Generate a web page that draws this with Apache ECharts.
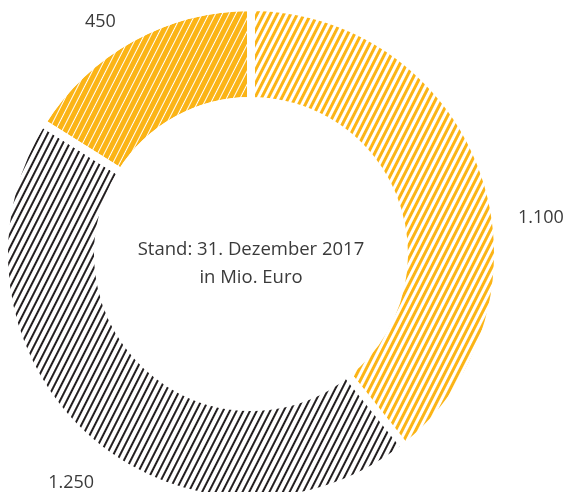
<!DOCTYPE html>
<html>
<head>
<meta charset="utf-8">
<title>Donut</title>
<script src="https://cdn.jsdelivr.net/npm/echarts@6/dist/echarts.min.js"></script>
<style>
    html, body { margin: 0; padding: 0; background: #fff; }
    #main { width: 566px; height: 492px; }
</style>
</head>
<body>
<div id="main"></div>
<script>
    // Werte (in Mio. Euro), im Uhrzeigersinn ab 12 Uhr
    var labels = ['1.100', '1.250', '450'];
    var values = [1100, 1250, 450];
    var centerText = ['Stand: 31. Dezember 2017', 'in Mio. Euro'];

    var yellow = '#fbb416';
    var black = '#231f20';
    // Verschiebung der Beschriftungen gegenüber der Standardlage
    var labelNudge = [[10, 52], [26, 30], [-1, 2]];

    // Schraffur: senkrechte Streifen, leicht gedreht
    function stripes(color, on, off){
        return {
            symbol: 'rect',
            symbolSize: 1,
            color: color,
            dashArrayX: [on, off],
            dashArrayY: [1, 0],
            rotation: 0.47
        };
    }
    var styles = [
        { color: '#fff', decal: stripes(yellow, 3, 3) },
        { color: '#fff', decal: stripes(black, 2, 4) },
        { color: yellow, decal: stripes('#fff', 1, 5) }
    ];

    var seriesData = [];
    for (var i = 0; i < values.length; i++) {
        seriesData.push({
            name: labels[i],
            value: values[i],
            itemStyle: styles[i]
        });
    }

    var chart = echarts.init(document.getElementById('main'));
    chart.setOption({
        animation: false,
        title: {
            text: centerText.join('\n'),
            left: 246,
            top: 231,
            textAlign: 'center',
            textStyle: {
                fontFamily: 'Open Sans',
                fontSize: 18.5,
                fontWeight: 'normal',
                color: '#3a3a3a',
                lineHeight: 28
            }
        },
        series: [{
            type: 'pie',
            center: [251, 254],
            radius: [153, 247],
            startAngle: 90,
            clockwise: true,
            silent: true,
            itemStyle: {
                borderColor: '#fff',
                borderWidth: 8
            },
            label: {
                show: true,
                position: 'outside',
                formatter: '{b}',
                fontFamily: 'Open Sans',
                fontSize: 18,
                color: '#3a3a3a'
            },
            labelLine: { show: false, length: 20, length2: 0 },
            labelLayout: function(params){
                var n = labelNudge[params.dataIndex];
                return { dx: n[0], dy: n[1] };
            },
            data: seriesData
        }]
    });
</script>
</body>
</html>
